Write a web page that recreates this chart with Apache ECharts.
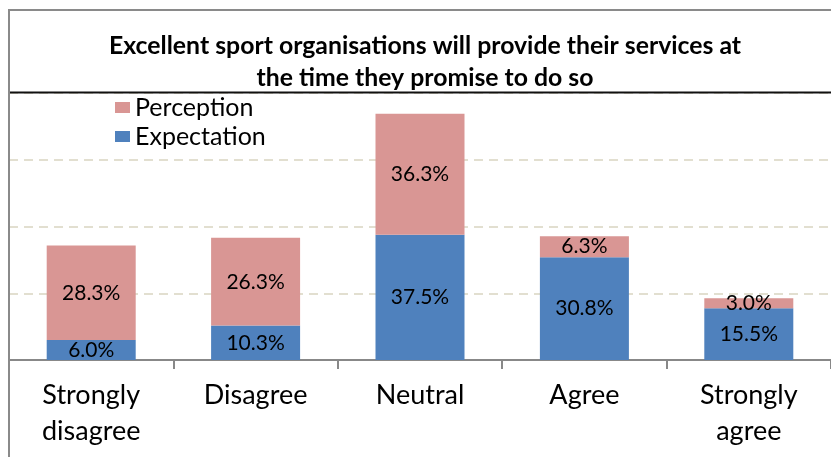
<!DOCTYPE html>
<html>
<head>
<meta charset="utf-8">
<script src="https://cdn.jsdelivr.net/npm/echarts@6/dist/echarts.min.js"></script>
<style>
  html, body { margin: 0; padding: 0; background: #ffffff; }
  #chart { width: 831px; height: 457px; }
</style>
</head>
<body>
<div id="chart"></div>
<script>
// Survey responses (%) for one service-quality statement
const categories = ['Strongly\ndisagree', 'Disagree', 'Neutral', 'Agree', 'Strongly\nagree'];
const expectation = [6.0, 10.3, 37.5, 30.8, 15.5];
const perception = [28.3, 26.3, 36.3, 6.3, 3.0];

const FONT = 'Lato, "Open Sans", sans-serif';

const chart = echarts.init(document.getElementById('chart'), null, { renderer: 'canvas' });

const labelStyle = {
  show: true,
  position: 'inside',
  color: '#000000',
  fontFamily: FONT,
  fontSize: 21,
  formatter: p => p.value.toFixed(1) + '%'
};

chart.setOption({
  animation: false,
  backgroundColor: '#ffffff',
  title: {
    text: 'Excellent sport organisations will provide their services at\nthe time they promise to do so',
    left: 425,
    textAlign: 'center',
    top: 30,
    padding: 0,
    textStyle: {
      fontFamily: FONT,
      fontWeight: 'bold',
      fontSize: 24.8,
      lineHeight: 32,
      color: '#000000'
    }
  },
  legend: {
    orient: 'vertical',
    left: 110,
    top: 90,
    itemWidth: 15,
    itemHeight: 11,
    itemGap: 4,
    icon: 'rect',
    data: ['Perception', 'Expectation'],
    textStyle: { fontFamily: FONT, fontSize: 25, lineHeight: 25, color: '#000000' }
  },
  grid: { left: 9, right: -11, top: 93, bottom: 97, containLabel: false },
  xAxis: {
    type: 'category',
    data: categories,
    boundaryGap: true,
    axisLine: { show: true, lineStyle: { color: '#888888', width: 2 } },
    axisTick: { show: true, length: 9, lineStyle: { color: '#888888', width: 2 } },
    axisLabel: {
      fontFamily: FONT,
      fontSize: 27,
      lineHeight: 36,
      color: '#000000',
      margin: 17,
      interval: 0
    }
  },
  yAxis: {
    type: 'value',
    min: 0,
    max: 80,
    interval: 20,
    axisLabel: { show: false },
    axisLine: { show: false },
    axisTick: { show: false },
    splitLine: { show: true, lineStyle: { color: '#d9d5c1', width: 1.5, type: [9, 6] } }
  },
  series: [
    {
      name: 'Expectation',
      type: 'bar',
      stack: 'total',
      data: expectation,
      barWidth: 89,
      itemStyle: { color: '#4f81bd' },
      label: labelStyle,
      z: 3
    },
    {
      name: 'Perception',
      type: 'bar',
      stack: 'total',
      data: perception,
      barWidth: 89,
      itemStyle: { color: '#d99694' },
      label: labelStyle,
      z: 3
    }
  ],
  graphic: [
    {
      type: 'rect',
      silent: true,
      shape: { x: 9, y: 10, width: 900, height: 500 },
      style: { fill: 'none', stroke: '#8a8a8a', lineWidth: 2 },
      z: 100
    },
    {
      type: 'line',
      silent: true,
      shape: { x1: 10, y1: 92.5, x2: 831, y2: 92.5 },
      style: { stroke: '#111111', lineWidth: 2 },
      z: 100
    }
  ]
});
</script>
</body>
</html>
